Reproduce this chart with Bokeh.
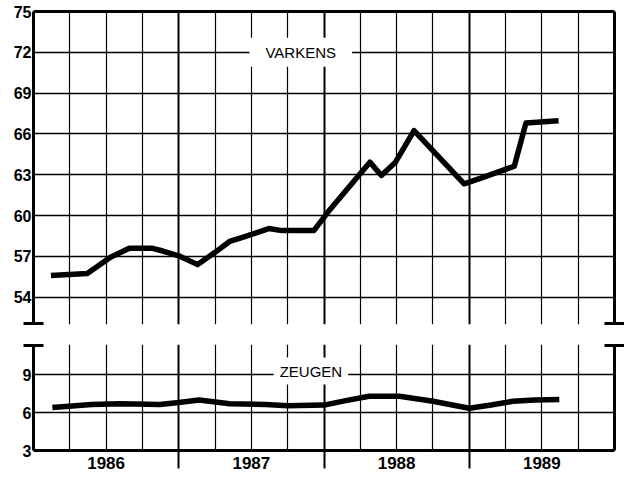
from bokeh.plotting import figure
from bokeh.models import Range1d, LinearAxis, FixedTicker, Grid, Label
from bokeh.layouts import column
from bokeh.embed import file_html
from bokeh.resources import INLINE

# ---- data ----
varkens_t = [1986.12, 1986.37, 1986.53, 1986.66, 1986.82, 1986.89, 1987.0, 1987.13,
             1987.25, 1987.35, 1987.44, 1987.62, 1987.71, 1987.93, 1988.03, 1988.316,
             1988.395, 1988.49, 1988.62, 1988.965, 1989.10, 1989.31, 1989.39, 1989.615]
varkens_v = [55.6, 55.75, 56.95, 57.6, 57.6, 57.4, 57.05, 56.4,
             57.3, 58.1, 58.4, 59.05, 58.9, 58.9, 60.3, 63.93,
             62.95, 63.9, 66.24, 62.34, 62.83, 63.63, 66.8, 66.97]

zeugen_t = [1986.13, 1986.4, 1986.6, 1986.87, 1987.0, 1987.14, 1987.35, 1987.6,
            1987.75, 1988.0, 1988.15, 1988.31, 1988.52, 1988.75, 1989.0, 1989.15,
            1989.3, 1989.45, 1989.62]
zeugen_v = [6.4, 6.65, 6.7, 6.65, 6.8, 7.0, 6.7, 6.65,
            6.55, 6.6, 6.95, 7.3, 7.3, 6.9, 6.35, 6.6,
            6.9, 7.0, 7.05]

upper_ticks = [54, 57, 60, 63, 66, 69, 72, 75]
lower_ticks = [3, 6, 9]
quarter_lines = [1986.25, 1986.5, 1986.75, 1987.25, 1987.5, 1987.75,
                 1988.25, 1988.5, 1988.75, 1989.25, 1989.5, 1989.75]
year_lines = [1987, 1988, 1989]
year_centres = [1986.5, 1987.5, 1988.5, 1989.5]
year_labels = ["1986", "1987", "1988", "1989"]

TICK_FONT = "Liberation Sans"
LABEL_FONT = "Liberation Sans"

x_range = Range1d(1986, 1990)


def base_fig(y_range, frame_h, top, bottom):
    p = figure(x_range=x_range, y_range=y_range, frame_width=581, frame_height=frame_h,
               min_border_left=33, min_border_right=4, min_border_top=top,
               min_border_bottom=bottom, output_backend="svg", toolbar_location=None,
               x_axis_location=None, y_axis_location=None)
    p.center = []  # drop the default (hidden-axis) grids
    p.outline_line_color = None
    p.background_fill_color = "white"
    p.border_fill_color = "white"
    p.add_layout(Grid(dimension=0, ticker=FixedTicker(ticks=quarter_lines),
                      grid_line_color="black", grid_line_width=1.2))
    p.add_layout(Grid(dimension=0, ticker=FixedTicker(ticks=year_lines),
                      grid_line_color="black", grid_line_width=2))
    return p


def style_axis(ax):
    ax.axis_line_color = "black"
    ax.axis_line_width = 3
    ax.major_tick_in = 0
    ax.major_tick_out = 0
    ax.minor_tick_line_color = "black"
    ax.minor_tick_line_width = 3
    ax.major_label_text_font = TICK_FONT
    ax.major_label_text_font_style = "bold"
    ax.major_label_text_color = "black"
    return ax


def cap_axis(cap):
    ax = style_axis(LinearAxis(ticker=FixedTicker(ticks=[], minor_ticks=[cap])))
    ax.minor_tick_in = 10
    ax.minor_tick_out = 10
    ax.major_label_standoff = -10
    ax.major_label_text_font_size = "0px"
    return ax


# ---- upper panel: VARKENS ----
p1 = base_fig(Range1d(52.0, 75.0), 313, 11, 10)
p1.add_layout(Grid(dimension=1, ticker=FixedTicker(ticks=upper_ticks[:-1]),
                   grid_line_color="black", grid_line_width=1.3))

left1 = style_axis(LinearAxis(ticker=FixedTicker(ticks=upper_ticks, minor_ticks=[52.1])))
left1.minor_tick_in = 10
left1.minor_tick_out = 10
left1.major_label_standoff = -8
left1.major_label_text_font_size = "16px"
p1.add_layout(left1, "left")
p1.add_layout(cap_axis(52.1), "right")
top1 = style_axis(LinearAxis(ticker=FixedTicker(ticks=[])))
top1.major_label_standoff = 0
top1.major_label_text_font_size = "0px"
p1.add_layout(top1, "above")

p1.line(varkens_t, varkens_v, line_width=5.5, line_color="black", line_join="round")
p1.add_layout(Label(x=1987.84, y=72, text="VARKENS", text_align="center",
                    text_baseline="middle", text_font=LABEL_FONT, text_font_size="15px",
                    text_color="black", background_fill_color="white",
                    padding=dict(left=16, right=16, top=6, bottom=6)))

# ---- lower panel: ZEUGEN ----
p2 = base_fig(Range1d(3.0, 11.4), 106, 10, 26)
p2.add_layout(Grid(dimension=1, ticker=FixedTicker(ticks=[6, 9]),
                   grid_line_color="black", grid_line_width=1.3))

left2 = style_axis(LinearAxis(ticker=FixedTicker(ticks=lower_ticks, minor_ticks=[11.3])))
left2.minor_tick_in = 10
left2.minor_tick_out = 10
left2.major_label_standoff = -8
left2.major_label_text_font_size = "16px"
p2.add_layout(left2, "left")
p2.add_layout(cap_axis(11.3), "right")

bottom2 = style_axis(LinearAxis(ticker=FixedTicker(ticks=year_centres, minor_ticks=year_lines)))
bottom2.major_label_overrides = {c: l for c, l in zip(year_centres, year_labels)}
bottom2.minor_tick_in = 0
bottom2.minor_tick_out = 18
bottom2.minor_tick_line_width = 2
bottom2.major_label_standoff = -12
bottom2.major_label_text_font_size = "17px"
p2.add_layout(bottom2, "below")

p2.line(zeugen_t, zeugen_v, line_width=5.5, line_color="black", line_join="round")
p2.add_layout(Label(x=1987.91, y=9.3, text="ZEUGEN", text_align="center",
                    text_baseline="middle", text_font=LABEL_FONT, text_font_size="15px",
                    text_color="black", background_fill_color="white",
                    padding=dict(left=6, right=6, top=5, bottom=5)))

layout = column(p1, p2, spacing=0)
open("out.html", "w").write(file_html(layout, INLINE))
